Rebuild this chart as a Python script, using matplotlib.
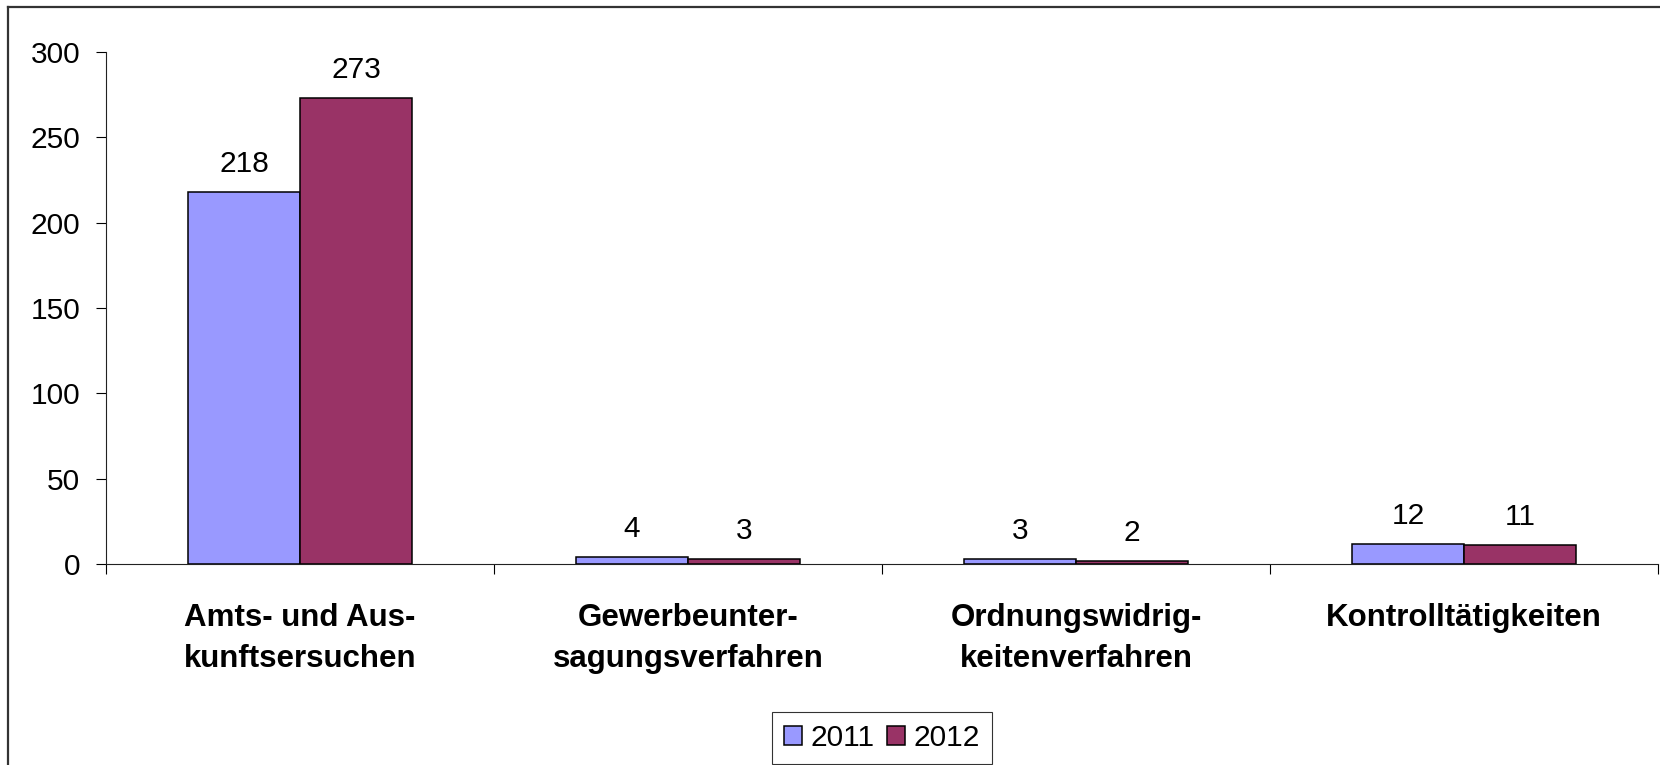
import numpy as np
import matplotlib
matplotlib.use('Agg')
import matplotlib.pyplot as plt
from matplotlib.lines import Line2D

plt.rcParams['font.family'] = ['Liberation Sans', 'DejaVu Sans']

# Daten
categories = [
    'Amts- und Aus-\nkunftsersuchen',
    'Gewerbeunter-\nsagungsverfahren',
    'Ordnungswidrig-\nkeitenverfahren',
    'Kontrolltätigkeiten',
]
values_2011 = [218, 4, 3, 12]
values_2012 = [273, 3, 2, 11]
years = ['2011', '2012']
yticks = [0, 50, 100, 150, 200, 250, 300]

color_2011 = '#9999FF'
color_2012 = '#993366'

fig = plt.figure(figsize=(16.6, 7.65), dpi=100)
ax = fig.add_axes([106 / 1660, 1 - 564 / 765, (1658 - 106) / 1660, (564 - 52) / 765])

x = np.arange(len(categories))
w = 0.289
b1 = ax.bar(x - w / 2, values_2011, w, color=color_2011, edgecolor='black',
            linewidth=1.1, label=years[0])
b2 = ax.bar(x + w / 2, values_2012, w, color=color_2012, edgecolor='black',
            linewidth=1.1, label=years[1])

for bars in (b1, b2):
    ax.bar_label(bars, padding=10, fontsize=21.5)

ax.set_xlim(-0.5, len(categories) - 0.5)
ax.set_ylim(0, 300)
ax.set_yticks(yticks)
ax.set_xticks(x)
ax.set_xticklabels(categories, fontsize=22.5, fontweight='bold', linespacing=1.5)
ax.set_xticks(np.arange(len(categories) + 1) - 0.5, minor=True)
ax.tick_params(axis='x', which='major', length=0, pad=28)
ax.tick_params(axis='x', which='minor', length=7.5, width=0.8, direction='out')
ax.tick_params(axis='y', length=7.5, width=0.8, pad=11, labelsize=21.5)

for s in ('top', 'right'):
    ax.spines[s].set_visible(False)
for s in ('left', 'bottom'):
    ax.spines[s].set_linewidth(0.8)
    ax.spines[s].set_color('#222222')

leg = fig.legend(handles=[b1, b2], labels=years, loc='upper center',
                 bbox_to_anchor=(882 / 1660, 1 - 712 / 765), ncol=2,
                 fontsize=21.5, frameon=True, fancybox=False, edgecolor='black',
                 handlelength=0.6, handleheight=0.6, handletextpad=0.3,
                 columnspacing=0.4, borderpad=0.4, borderaxespad=0)
leg.get_frame().set_linewidth(0.8)

# Rahmen um das Diagramm
fig.add_artist(Line2D([8 / 1660, 8 / 1660], [0, 1 - 7 / 765], color='#333333', lw=1.6))
fig.add_artist(Line2D([8 / 1660, 1], [1 - 7 / 765, 1 - 7 / 765], color='#333333', lw=1.6))

fig.savefig('out.png', dpi=100)
